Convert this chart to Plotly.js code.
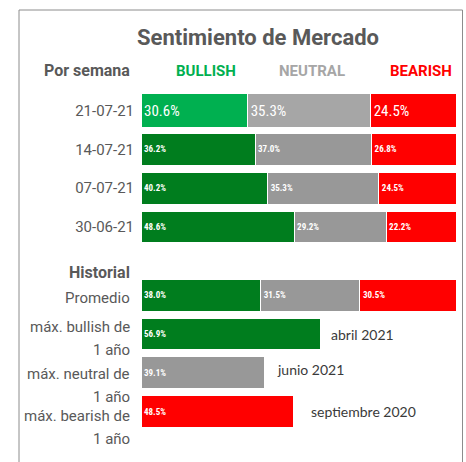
<!DOCTYPE html>
<html>
<head>
<meta charset="utf-8">
<script src="https://cdn.plot.ly/plotly-3.0.1.min.js"></script>
<style>html,body{margin:0;padding:0;background:#fff;}#chart{width:466px;height:462px;}</style>
</head>
<body>
<div id="chart"></div>
<script>
// ---- data ----
const weeks = ['21-07-21', '14-07-21', '07-07-21', '30-06-21'];
const bullishWeek = [30.6, 36.2, 40.2, 48.6];
const neutralWeek = [35.3, 37.0, 35.3, 29.2];
const bearishWeek = [24.5, 26.8, 24.5, 22.2];

const histCats = ['Promedio', 'máx. bullish de 1 año', 'máx. neutral de 1 año', 'máx. bearish de 1 año'];
const histLabelLines = [['Promedio'], ['máx. bullish de', '1 año'], ['máx. neutral de', '1 año'], ['máx. bearish de', '1 año']];
const avgShares = [38.0, 31.5, 30.5];      // bullish, neutral, bearish
const maxShares = [56.9, 39.1, 48.5];      // max bullish, neutral, bearish (1 year)
const maxDates = ['abril 2021', 'junio 2021', 'septiembre 2020'];
const seriesNames = ['BULLISH', 'NEUTRAL', 'BEARISH'];

// ---- styles ----
const FONT = "Roboto, 'Liberation Sans', sans-serif";
const NARROW = "'Liberation Sans Narrow', 'Roboto Condensed', 'DejaVu Sans Condensed', Roboto, sans-serif";
const headColors = ['#00B050', '#A6A6A6', '#FF0000'];
const firstRowColors = ['#00B050', '#A6A6A6', '#FF0000'];
const rowColors = ['#007D1E', '#989898', '#FF0000'];
const W = 466, H = 462;
const px = v => v / W, py = v => (H - v) / H;

const fmt = v => (v == null ? '' : v.toFixed(1) + '%');
const weekSeries = [bullishWeek, neutralWeek, bearishWeek];
const weekSum = weeks.map((_, i) => weekSeries.reduce((s, a) => s + a[i], 0));

const traces = [];
weekSeries.forEach((vals, k) => {
  traces.push({
    type: 'bar', orientation: 'h', name: seriesNames[k],
    y: weeks, x: vals.map((v, i) => v / weekSum[i] * 100),
    text: vals.map(fmt), textposition: 'inside', insidetextanchor: 'start', textangle: 0,
    constraintext: 'none',
    textfont: { color: '#ffffff', size: weeks.map((_, i) => i === 0 ? 15 : 9), family: NARROW,
                weight: weeks.map((_, i) => i === 0 ? 'normal' : 'bold') },
    marker: { color: weeks.map((_, i) => i === 0 ? firstRowColors[k] : rowColors[k]), line: { color: '#ffffff', width: 1 } },
    width: weeks.map((_, i) => i === 0 ? 0.89 : 0.82),
    xaxis: 'x', yaxis: 'y', hoverinfo: 'skip'
  });
});
[0, 1, 2].forEach(k => {
  const xs = histCats.map((c, i) => i === 0 ? avgShares[k] : (i - 1 === k ? maxShares[k] : null));
  traces.push({
    type: 'bar', orientation: 'h', name: seriesNames[k],
    y: histCats, x: xs,
    text: xs.map(fmt), textposition: 'inside', insidetextanchor: 'start', textangle: 0,
    constraintext: 'none',
    textfont: { color: '#ffffff', size: 9, family: NARROW, weight: 'bold' },
    marker: { color: rowColors[k], line: { color: '#ffffff', width: 1 } },
    width: 0.82,
    xaxis: 'x2', yaxis: 'y2', hoverinfo: 'skip'
  });
});

const annotations = [];
const hdr = (text, x, y, anchor, color, size) => annotations.push({
  text: '<b>' + text + '</b>', xref: 'paper', yref: 'paper', x: px(x), y: py(y),
  xanchor: anchor, yanchor: 'middle', showarrow: false,
  font: { family: FONT, size: size, color: color }
});
hdr('Por semana', 132, 71, 'right', '#595959', 16);
hdr(seriesNames[0], 206, 71, 'center', headColors[0], 15);
hdr(seriesNames[1], 312, 71, 'center', headColors[1], 15);
hdr(seriesNames[2], 421, 71, 'center', headColors[2], 15);
hdr('Historial', 132, 272, 'right', '#595959', 16);

// historial row labels
const firstLineOffset = [2.4, -7, 1.5, 4.2];
histLabelLines.forEach((lines, i) => {
  lines.forEach((ln, j) => {
    annotations.push({
      text: ln, xref: 'paper', yref: 'y2', x: px(132), y: histCats[i],
      xanchor: 'right', yanchor: 'middle', showarrow: false,
      yshift: -(firstLineOffset[i] + j * 23),
      font: { family: FONT, size: 15, color: '#595959' }
    });
  });
});
// dates of maxima
const dateShift = [9, 11, 15];
const dateY = [0, 3, 0];
maxDates.forEach((d, k) => {
  annotations.push({
    text: d, xref: 'x2', yref: 'y2', x: maxShares[k], y: histCats[k + 1],
    xanchor: 'left', yanchor: 'middle', showarrow: false,
    xshift: dateShift[k], yshift: dateY[k],
    font: { family: "Lato, Roboto, sans-serif", size: 14, color: '#3a3a3a' }
  });
});

const xdom = [px(141), px(456)];
const layout = {
  width: W, height: H,
  margin: { l: 0, r: 0, t: 0, b: 0 },
  paper_bgcolor: '#ffffff', plot_bgcolor: '#ffffff',
  showlegend: false, barmode: 'stack',
  title: { text: '<b>Sentimiento de Mercado</b>', x: px(258), xanchor: 'center', y: py(37), yanchor: 'middle',
           font: { family: FONT, size: 22, color: '#595959' } },
  xaxis: { domain: xdom, range: [0, 100], visible: false, fixedrange: true, anchor: 'y' },
  xaxis2: { domain: xdom, range: [0, 100], visible: false, fixedrange: true, anchor: 'y2' },
  yaxis: { domain: [py(246.4), py(91.1)], type: 'category', range: [3.5, -0.5], anchor: 'x',
           showgrid: false, zeroline: false, showline: false, ticks: '', ticklabelstandoff: 6,
           tickfont: { family: FONT, size: 15, color: '#595959' }, fixedrange: true },
  yaxis2: { domain: [py(430.9), py(275.9)], type: 'category', range: [3.5, -0.5], anchor: 'x2',
            showgrid: false, zeroline: false, showline: false, showticklabels: false, ticks: '', fixedrange: true },
  annotations: annotations,
  shapes: [{ type: 'rect', xref: 'paper', yref: 'paper', x0: px(19), x1: px(462.5), y0: -0.05, y1: py(10),
             line: { color: '#8c8c8c', width: 1 }, fillcolor: 'rgba(0,0,0,0)' }]
};
Plotly.newPlot('chart', traces, layout, { displayModeBar: false, staticPlot: true });
</script>
</body>
</html>
